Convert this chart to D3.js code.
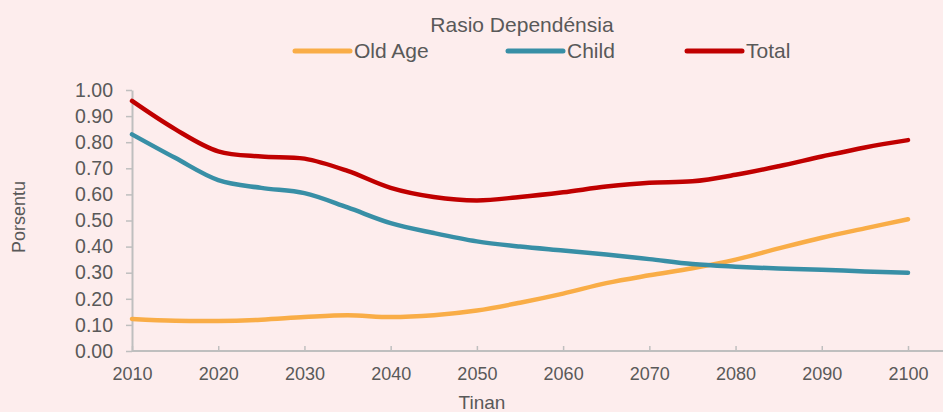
<!DOCTYPE html>
<html><head><meta charset="utf-8">
<script src="https://cdn.jsdelivr.net/npm/d3@7"></script>
<style>
html,body{margin:0;padding:0;background:#fdeded;}
svg{display:block;}
text{font-family:"Liberation Sans",Arial,sans-serif;fill:#595959;}
</style></head>
<body>
<svg id="chart" width="943" height="412"></svg>
<script>
const years = [2010,2015,2020,2025,2030,2035,2040,2045,2050,2055,2060,2065,2070,2075,2080,2085,2090,2095,2100];
const oldAge = [0.123,0.116,0.115,0.120,0.130,0.137,0.130,0.137,0.155,0.185,0.220,0.260,0.290,0.317,0.350,0.393,0.434,0.470,0.505];
const child  = [0.830,0.740,0.655,0.625,0.605,0.550,0.490,0.452,0.420,0.400,0.385,0.370,0.352,0.333,0.323,0.316,0.311,0.305,0.300];
const total  = [0.958,0.850,0.765,0.745,0.737,0.690,0.625,0.590,0.577,0.590,0.608,0.630,0.645,0.650,0.675,0.708,0.745,0.780,0.808];
const xTicks = [2010,2020,2030,2040,2050,2060,2070,2080,2090,2100];
const yTicks = [0,0.1,0.2,0.3,0.4,0.5,0.6,0.7,0.8,0.9,1.0];
const seriesNames = ["Old Age","Child","Total"];
const seriesColors = ["#f9ad47","#388fa6","#c00000"];
const chartTitle = "Rasio Dependénsia";
const xTitle = "Tinan";
const yTitle = "Porsentu";

const svg = d3.select("#chart");
svg.append("rect").attr("width",943).attr("height",412).attr("fill","#fdeded");

const x = d3.scaleLinear().domain([2010,2100]).range([132,908]);
const y = d3.scaleLinear().domain([0,1]).range([351,90]);

// y axis
const gy = svg.append("g").attr("transform","translate(132,0)")
  .call(d3.axisLeft(y).tickValues(yTicks).tickFormat(d3.format(".2f")).tickSizeOuter(0).tickSizeInner(6).tickPadding(13));
gy.select(".domain").attr("stroke","#bfbfbf").attr("stroke-width",2);
gy.selectAll(".tick line").attr("stroke","#bfbfbf").attr("stroke-width",1.5);
gy.selectAll(".tick text").attr("font-size",19.5).attr("fill","#595959").attr("font-family","Liberation Sans, Arial, sans-serif");

// x axis
const gx = svg.append("g").attr("transform","translate(0,351)")
  .call(d3.axisBottom(x).tickValues(xTicks).tickFormat(d3.format("d")).tickSizeOuter(0).tickSizeInner(-5).tickPadding(16));
gx.select(".domain").attr("d","M132,0H943").attr("stroke","#bfbfbf").attr("stroke-width",2);
gx.selectAll(".tick line").attr("stroke","#bfbfbf").attr("stroke-width",1.5);
gx.selectAll(".tick text").attr("font-size",18).attr("fill","#595959").attr("font-family","Liberation Sans, Arial, sans-serif");

// axis titles
svg.append("text").attr("x",482).attr("y",409).attr("text-anchor","middle").attr("font-size",19).text(xTitle);
svg.append("text").attr("transform","translate(25,217) rotate(-90)").attr("text-anchor","middle").attr("font-size",18).text(yTitle);

// lines
const data = [oldAge, child, total];
const line = d3.line().x((d,i)=>x(years[i])).y(d=>y(d)).curve(d3.curveCatmullRom.alpha(0.5));
data.forEach((s,k)=>{
  svg.append("path").attr("d",line(s)).attr("fill","none").attr("stroke",seriesColors[k])
    .attr("stroke-width",4.5).attr("stroke-linecap","round").attr("stroke-linejoin","round");
});

// title
svg.append("text").attr("x",522).attr("y",32).attr("text-anchor","middle").attr("font-size",21).text(chartTitle);

// legend
const legX = [295,508,687];
seriesNames.forEach((n,k)=>{
  svg.append("line").attr("x1",legX[k]).attr("x2",legX[k]+55).attr("y1",51).attr("y2",51)
    .attr("stroke",seriesColors[k]).attr("stroke-width",5).attr("stroke-linecap","round");
  svg.append("text").attr("x",legX[k]+59).attr("y",58).attr("font-size",21).text(n);
});
</script>
</body></html>
